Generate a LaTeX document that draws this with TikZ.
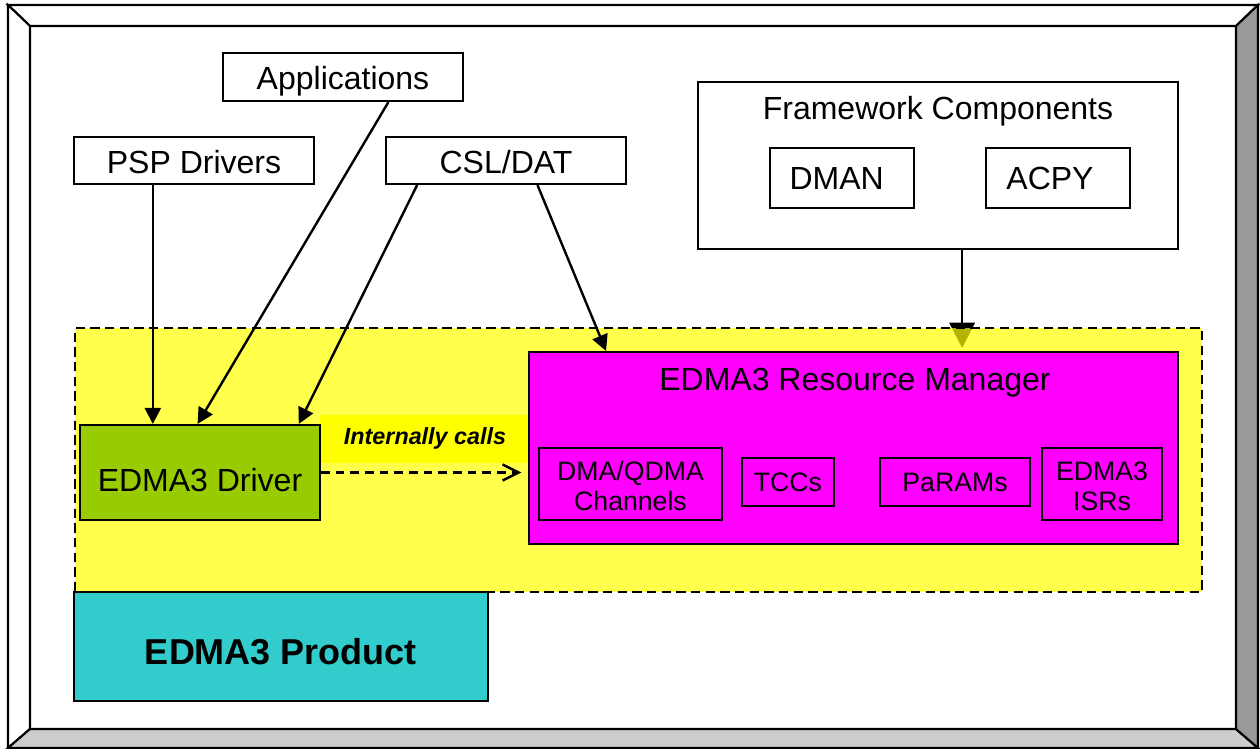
\documentclass[tikz,border=0pt]{standalone}
\usepackage{fontspec}
\setmainfont{Liberation Sans}
\usetikzlibrary{arrows.meta,calc,fit}
\definecolor{drvgreen}{HTML}{99CC00}
\definecolor{rmmagenta}{HTML}{FF00FF}
\definecolor{prodcyan}{HTML}{33CCCC}
\definecolor{bevlight}{HTML}{CCCCCC}
\definecolor{bevdark}{HTML}{999999}
\definecolor{zoneyellow}{HTML}{FFFF00}
\begin{document}
\begin{tikzpicture}[x=0.75pt,y=-0.75pt,
  box/.style={draw=black, line width=1.6pt, inner sep=0pt},
  txt/.style={inner sep=0pt, align=center, font=\fontsize{24}{28}\selectfont},
  smalltxt/.style={inner sep=0pt, align=center, font=\fontsize{20}{22.5}\selectfont},
  arr/.style={line width=1.8pt, -{Triangle[length=12pt,width=12pt]}},
  bigarr/.style={line width=1.8pt, -{Triangle[length=19pt,width=19pt]}},
  dasharr/.style={line width=1.8pt, dash pattern=on 6.5pt off 4.5pt,
    -{Straight Barb[length=12pt,width=12pt,line width=1.8pt]}},
  bevel/.style={draw=black, line width=1.6pt, line join=miter}
]
\useasboundingbox (0,0) rectangle (1260,749);

% outer bevelled frame
\filldraw[bevel, fill=white] (8,5) -- (1258,5) -- (1236,26) -- (30,26) -- cycle;
\filldraw[bevel, fill=white] (8,5) -- (30,26) -- (30,729) -- (8,748) -- cycle;
\filldraw[bevel, fill=bevlight] (8,748) -- (30,729) -- (1236,729) -- (1258,748) -- cycle;
\filldraw[bevel, fill=bevdark] (1258,5) -- (1236,26) -- (1236,729) -- (1258,748) -- cycle;

% top boxes
\node[box, fit={(223,53) (463,101)}, label={[txt, yshift=-3pt]center:Applications}] (app) {};
\node[box, fit={(74,137) (314,184)}, label={[txt, yshift=-1pt]center:PSP Drivers}] (psp) {};
\node[box, fit={(386,137) (626,184)}, label={[txt, yshift=-1pt]center:CSL/DAT}] (csl) {};
\node[box, fit={(698,82) (1178,249)}] (fw) {};
\node[txt] (fwt) at (938,111) {Framework Components};
\node[box, fit={(770,148) (914,208)}, label={[txt, xshift=-4pt]center:DMAN}] (dman) {};
\node[box, fit={(986,148) (1130,208)}, label={[txt, xshift=-6pt]center:ACPY}] (acpy) {};

% framework arrow (under the translucent zone)
\coordinate (fwout) at ($(fw.south west)!0.55!(fw.south east)$);
\coordinate (fwin) at (fwout |- 0,352);
\draw[bigarr, shorten >=3pt] (fwout) -- (fwin);

% yellow zone
\node[draw=black, line width=1.6pt, dash pattern=on 7pt off 4pt,
  fill=zoneyellow, fill opacity=0.7, inner sep=0pt,
  fit={(75,328) (1202,592)}] (zone) {};

% internally calls label
\node[fill=zoneyellow, inner sep=0pt, fit={(320,415) (528,463)}] (lbl) {};
\node[inner sep=0pt, font=\fontsize{17.5}{20}\selectfont\bfseries\itshape]
  (lbltxt) at (425,438) {Internally calls};

% driver and resource manager
\node[box, fill=drvgreen, fit={(80,425) (320,520)}, label={[txt, yshift=-6pt]center:EDMA3 Driver}] (drv) {};
\node[box, fill=rmmagenta, fit={(529,352) (1178,544)}] (rm) {};
\node[txt] (rmt) at (855,383) {EDMA3 Resource Manager};
\node[box, fit={(539,448) (722,520)}, label={[smalltxt, yshift=-1.5pt]center:DMA/QDMA\\Channels}] (chan) {};
\node[box, fit={(742,458) (834,506)}, label={[smalltxt]center:TCCs}] (tcc) {};
\node[box, fit={(880,458) (1030,506)}, label={[smalltxt]center:PaRAMs}] (param) {};
\node[box, fit={(1042,448) (1162,520)}, label={[smalltxt, yshift=-1.5pt]center:EDMA3\\ISRs}] (isr) {};

% product box
\node[box, fill=prodcyan, fit={(74,592) (488,701)},
  label={[inner sep=0pt, yshift=-4pt, font=\fontsize{27}{30}\selectfont\bfseries]center:EDMA3 Product}] (prod) {};

% connectors
\coordinate (p1) at ($(psp.south west)!0.33!(psp.south east)$);
\draw[arr] (p1) -- (p1 |- drv.north);
\draw[arr] ($(app.south west)!0.6875!(app.south east)$) -- ($(drv.north west)!0.49!(drv.north east)$);
\draw[arr] ($(csl.south west)!0.133!(csl.south east)$) -- ($(drv.north west)!0.908!(drv.north east)$);
\draw[arr] ($(csl.south west)!0.63!(csl.south east)$) -- ($(rm.north west)!0.12!(rm.north east)$);
\draw[dasharr, shorten >=5pt] (drv.east) -- (drv.east -| rm.west);

\end{tikzpicture}
\end{document}
